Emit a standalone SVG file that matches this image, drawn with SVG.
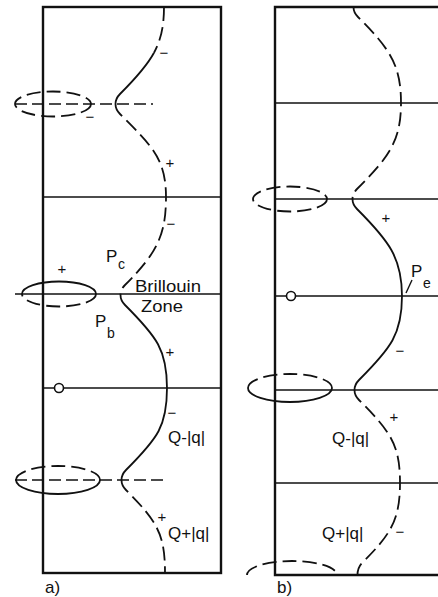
<svg xmlns="http://www.w3.org/2000/svg" width="438" height="597" viewBox="0 0 438 597">
<style>
.bg{fill:#ffffff}
.frame{fill:none;stroke:#111;stroke-width:2.4}
.ln{fill:none;stroke:#111;stroke-width:1.4}
.sol{fill:none;stroke:#111;stroke-width:1.8}
.dash{fill:none;stroke:#111;stroke-width:1.8;stroke-dasharray:14 6}
.hdash{fill:none;stroke:#111;stroke-width:1.6;stroke-dasharray:12 5}
.t{font-family:"Liberation Sans",Arial,sans-serif;fill:#111;font-size:17px}
.s{font-family:"Liberation Sans",Arial,sans-serif;fill:#111;font-size:14px}
.sg{font-family:"Liberation Sans",Arial,sans-serif;fill:#111;font-size:15px;text-anchor:middle}
</style>
<rect class="bg" x="0" y="0" width="438" height="597"/>

<g id="panel-a">
  <g id="a-frame">
    <rect class="frame" x="43" y="7" width="178" height="566"/>
  </g>
  <g id="a-lines">
    <line class="ln" x1="43" y1="197" x2="221" y2="197"/>
    <line class="ln" x1="15" y1="294" x2="221" y2="294"/>
    <line class="ln" x1="43" y1="388" x2="221" y2="388"/>
    <line class="hdash" x1="15" y1="104" x2="153" y2="104"/>
    <line class="hdash" x1="15" y1="480" x2="165" y2="480"/>
  </g>
  <g id="a-ellipses">
    <ellipse class="dash" cx="53" cy="104" rx="38" ry="12.5"/>
    <path class="sol" d="M22,294 A37,12.5 0 0 1 96,294"/>
    <path class="dash" d="M96,294 A37,12.5 0 0 1 22,294"/>
    <path class="dash" d="M16,480 A42,14 0 0 1 100,480"/>
    <path class="sol" d="M100,480 A42,14 0 0 1 16,480"/>
  </g>
  <g id="a-orbits">
    <path class="dash" d="M164,7 C164,26 161,39.75 154,52.75"/>
    <path class="sol" d="M154,52.75 C147,65.75 136,78 120,94 C117,97 115.5,100.5 115.5,104"/>
    <path class="dash" d="M115.5,104 C115.5,107.5 117,111 120,114 C152,146 166,159 166,197 C166,235 157,253 125,285 C122,288 120.5,291.5 120.5,295"/>
    <path class="sol" d="M120.5,295 C120.5,298.5 122,302 125,305 C157,337 167,350 167,388 C167,426 158,438 126,470 C123,473 121.5,476.5 121.5,480"/>
    <path class="dash" d="M121.5,480 C121.5,483.5 123,487 126,490 C158,522 165,535 165,573"/>
  </g>
  <g id="a-labels">
    <text class="sg" x="164" y="58">−</text>
    <text class="sg" x="90" y="122">−</text>
    <text class="sg" x="170" y="168">+</text>
    <text class="sg" x="171" y="229">−</text>
    <text class="sg" x="62" y="274">+</text>
    <text class="sg" x="170" y="357">+</text>
    <text class="sg" x="172" y="418">−</text>
    <text class="sg" x="162" y="522">+</text>
    <text class="t" x="106" y="262">P</text>
    <text class="s" x="118" y="269">c</text>
    <text class="t" x="95" y="327">P</text>
    <text class="s" x="107" y="338">b</text>
    <text class="t" x="135" y="292" textLength="66" lengthAdjust="spacingAndGlyphs">Brillouin</text>
    <text class="t" x="141" y="312" textLength="42" lengthAdjust="spacingAndGlyphs">Zone</text>
    <text class="t" x="168" y="443">Q-|q|</text>
    <text class="t" x="168" y="539">Q+|q|</text>
    <text class="t" x="45" y="593">a)</text>
    <circle cx="59" cy="388" r="4.5" fill="#fff" stroke="#111" stroke-width="1.6"/>
  </g>
</g>

<g id="panel-b">
  <g id="b-frame">
    <path class="frame" d="M440,7 H275 V575 H440"/>
  </g>
  <g id="b-lines">
    <line class="ln" x1="275" y1="103" x2="438" y2="103"/>
    <line class="ln" x1="275" y1="199" x2="438" y2="199"/>
    <line class="ln" x1="275" y1="296" x2="438" y2="296"/>
    <line class="ln" x1="275" y1="390" x2="438" y2="390"/>
    <line class="ln" x1="275" y1="483" x2="438" y2="483"/>
  </g>
  <g id="b-ellipses">
    <ellipse class="dash" cx="290" cy="199" rx="37" ry="12.5"/>
    <path class="dash" d="M248,388 A42,14 0 0 1 332,388"/>
    <path class="sol" d="M332,388 A42,14 0 0 1 248,388"/>
    <path class="dash" d="M247,575 A45,14 0 0 1 337,575"/>
  </g>
  <g id="b-orbits">
    <path class="dash" d="M353.5,7 C353.5,10.5 355,14 358,17 C390,49 401,65 401,103 C401,141 389,157 357,189 C354,192 352.5,195.5 352.5,199"/>
    <path class="sol" d="M352.5,199 C352.5,202.5 354,206 357,209 C389,241 402,258 402,296 C402,334 391,348 359,380 C356,383 354.5,386.5 354.5,390"/>
    <path class="dash" d="M354.5,390 C354.5,393.5 356,397 359,400 C391,432 400,445 400,483 C400,521 390,535 362,563 C359,566 357.5,570 357.5,575"/>
  </g>
  <g id="b-labels">
    <text class="sg" x="386" y="223">+</text>
    <text class="sg" x="400" y="356">−</text>
    <text class="sg" x="394" y="422">+</text>
    <text class="sg" x="400" y="537">−</text>
    <line class="ln" x1="406" y1="293" x2="412" y2="280"/>
    <text class="t" x="411" y="277">P</text>
    <text class="s" x="423" y="288">e</text>
    <text class="t" x="332" y="444">Q-|q|</text>
    <text class="t" x="322" y="539">Q+|q|</text>
    <text class="t" x="277" y="593">b)</text>
    <circle cx="291" cy="296" r="4.5" fill="#fff" stroke="#111" stroke-width="1.6"/>
  </g>
</g>
</svg>
